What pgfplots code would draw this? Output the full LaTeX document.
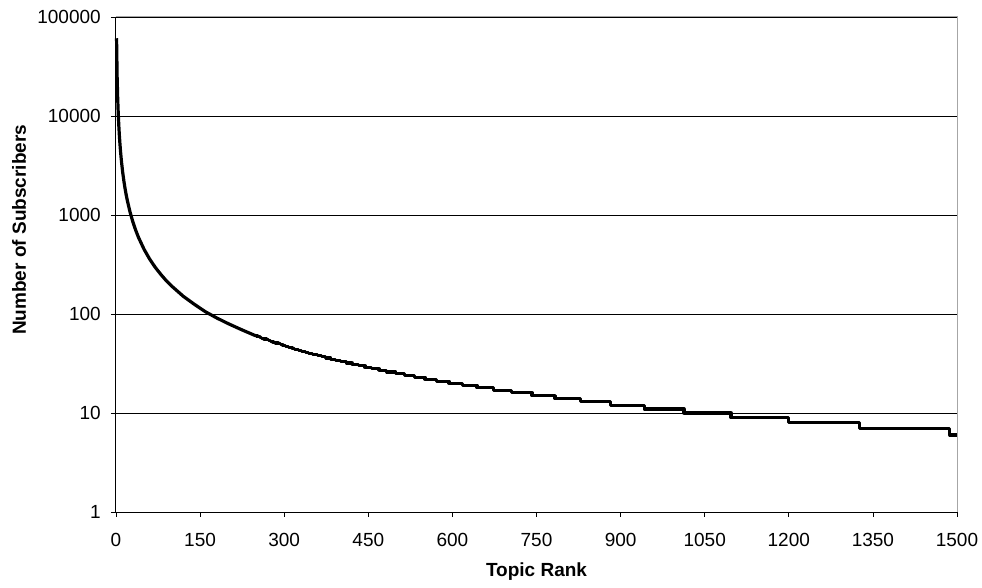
\documentclass[border=0pt]{standalone}
\usepackage{pgfplots}
\pgfplotsset{compat=1.18}
\usepackage{fontspec}
\setmainfont{Liberation Sans}

\begin{document}
\fontsize{14.25pt}{17pt}\selectfont
\begin{tikzpicture}
\begin{axis}[
  scale only axis, width=630.75pt, height=371.25pt,
  at={(0,0)}, anchor=south west,
  ymode=log, log basis y=10,
  xmin=0, xmax=1500, ymin=1, ymax=100000,
  xtick={0,150,300,450,600,750,900,1050,1200,1350,1500},
  xticklabels={0,150,300,450,600,750,900,1050,1200,1350,1500},
  ytick={1,10,100,1000,10000,100000},
  yticklabels={1,10,100,1000,10000,100000},
  yminorticks=false, xminorticks=false,
  ymajorgrids,
  major grid style={black, line width=0.6pt},
  tick align=outside, major tick length=3.75pt,
  tick style={black, line width=0.6pt},
  xtick pos=bottom, ytick pos=left,
  axis line style={draw=none},
  clip=false,
  /pgf/number format/assume math mode=true,
  xticklabel style={anchor=center, inner sep=0pt, yshift=-17.25pt},
  yticklabel style={anchor=east, inner sep=0pt, xshift=-7.5pt},
  xlabel={\bfseries Topic Rank},
  ylabel={\bfseries Number of Subscribers},
  xlabel style={at={(axis description cs:0.5,0)}, anchor=center, yshift=-45pt},
  ylabel style={at={(axis description cs:0,0.57)}, anchor=center, yshift=72.75pt},
]
\addplot[black, line width=2.4pt, line join=round, line cap=butt] coordinates {
(1,61000) (2,25227) (3,15197) (4,10607) (5,8025) (6,6389) (7,5270) (8,4460)
(9,3849) (10,3374) (12,2686) (14,2216) (16,1875) (18,1618) (20,1419)
(25,1073) (30,855) (35,705) (40,596) (50,451) (60,359) (70,296) (80,251)
(90,216) (100,190) (120,151) (140,125) (160,105) (180,91) (200,80) (225,69) (250,60)
};
\addplot[black, line width=2.4pt, line join=round, line cap=butt, const plot] coordinates {
(250,60) (253,59) (257,58) (260,57) (264,56) (268,55) (272,54) (276,53)
(280,52) (284,51) (289,50) (293,49) (298,48) (303,47) (308,46) (314,45)
(319,44) (325,43) (331,42) (338,41) (344,40) (351,39) (359,38) (366,37)
(374,36) (383,35) (392,34) (401,33) (411,32) (421,31) (432,30) (444,29)
(456,28) (469,27) (483,26) (499,25) (515,24) (532,23) (551,22) (571,21)
(594,20) (618,19) (644,18) (674,17) (706,16) (742,15) (783,14) (829,13)
(882,12) (942,11) (1013,10) (1097,9) (1199,8) (1326,7) (1487,6) (1500,6)
};
\draw[gray!70, line width=0.75pt] (rel axis cs:0,1) -- (rel axis cs:1,1) -- (rel axis cs:1,0);
\draw[black, line width=0.75pt] (rel axis cs:0,1) -- (rel axis cs:0,0) -- (rel axis cs:1,0);
\end{axis}
\path[use as bounding box] (-87pt,-55.5pt) rectangle (649.5pt,384pt);
\end{tikzpicture}
\end{document}
